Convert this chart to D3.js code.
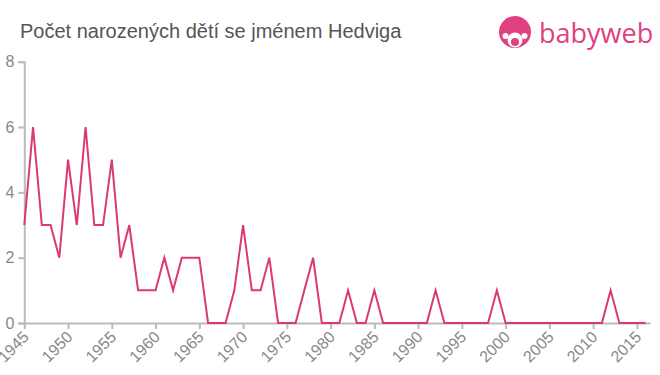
<!DOCTYPE html>
<html><head><meta charset="utf-8">
<script src="https://cdn.jsdelivr.net/npm/d3@7/dist/d3.min.js"></script>
<style>body{margin:0;background:#fff;}svg{display:block;font-family:"Liberation Sans",Arial,sans-serif;}</style>
</head><body><svg id="c" width="660" height="375"></svg>
<script>
const title = "Počet narozených dětí se jménem Hedviga";
const years = d3.range(1945, 2017);
const counts = [3,6,3,3,2,5,3,6,3,3,5,2,3,1,1,1,2,1,2,2,2,0,0,0,1,3,1,1,2,0,0,0,1,2,0,0,0,1,0,0,1,0,0,0,0,0,0,1,0,0,0,0,0,0,1,0,0,0,0,0,0,0,0,0,0,0,0,1,0,0,0,0];
const yTicks = [0,2,4,6,8];
const xTicks = [1945,1950,1955,1960,1965,1970,1975,1980,1985,1990,1995,2000,2005,2010,2015];
const data = years.map((y,i)=>({year:y, value:counts[i]}));

const svg = d3.select("#c");
const x = d3.scaleLinear().domain([1945, 2016.5]).range([24.3, 650]);
const y = d3.scaleLinear().domain([0, 8]).range([323, 61.7]);

svg.append("text").attr("x", 20).attr("y", 38).attr("fill", "#555")
  .style("font-size", "20px").text(title);

// logo
const logo = svg.append("g");
logo.append("circle").attr("cx", 515).attr("cy", 32).attr("r", 16).attr("fill", "#e0407f");
logo.append("circle").attr("cx", 515).attr("cy", 40).attr("r", 7.5).attr("fill", "#fff");
logo.append("circle").attr("cx", 515).attr("cy", 42).attr("r", 4).attr("fill", "#e0407f");
logo.append("circle").attr("cx", 505.5).attr("cy", 36).attr("r", 3).attr("fill", "#fff");
logo.append("circle").attr("cx", 524.5).attr("cy", 36).attr("r", 3).attr("fill", "#fff");
logo.append("text").attr("x", 539).attr("y", 43).attr("fill", "#e0407f")
  .style("font-size", "27px").style("font-family", "'Open Sans',sans-serif").text("babyweb");

// y axis
const ya = svg.append("g").attr("transform", "translate(24.3,0)")
  .call(d3.axisLeft(y).tickValues(yTicks).tickSize(6).tickPadding(4));
ya.select(".domain").attr("stroke", "#bbb").attr("stroke-width", 2);
ya.selectAll(".tick line").attr("stroke", "#bbb").attr("stroke-width", 2);
ya.selectAll(".tick text").attr("fill", "#888").style("font-size", "16px").style("font-family", "'Liberation Sans',Arial,sans-serif");

// x axis
const xa = svg.append("g").attr("transform", "translate(0,323)")
  .call(d3.axisBottom(x).tickValues(xTicks).tickFormat(d3.format("d")).tickSize(6).tickSizeOuter(0));
xa.select(".domain").attr("stroke", "#bbb").attr("stroke-width", 2);
xa.selectAll(".tick line").attr("stroke", "#bbb").attr("stroke-width", 2);
xa.selectAll(".tick text").attr("fill", "#888").style("font-size", "16px")
  .style("font-family", "'Liberation Sans',Arial,sans-serif")
  .attr("text-anchor", "end").attr("x", 0).attr("y", 0).attr("dy", 0)
  .attr("transform", "translate(5,15) rotate(-45)");

// line
svg.append("path").datum(data)
  .attr("fill", "none").attr("stroke", "#dc3a6b").attr("stroke-width", 2)
  .attr("stroke-linejoin", "miter")
  .attr("d", d3.line().x(d => x(d.year)).y(d => y(d.value)));
</script></body></html>
